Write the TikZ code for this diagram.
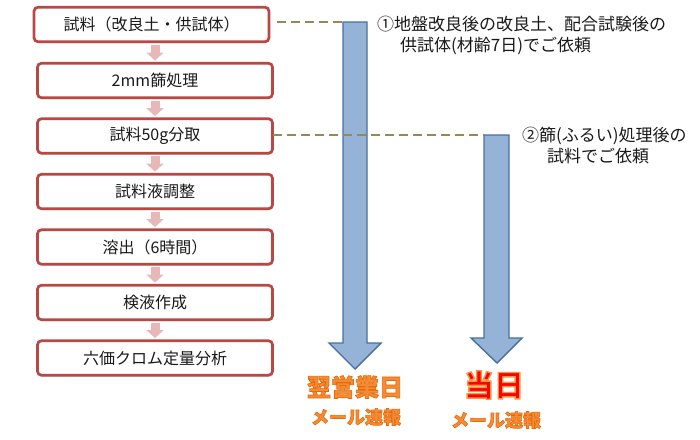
\documentclass[tikz,border=0pt]{standalone}
\usepackage{fontspec}
\setmainfont{Noto Sans CJK JP}
\usetikzlibrary{shadows,arrows.meta,calc}
\definecolor{boxred}{HTML}{B94743}
\definecolor{pinkarr}{HTML}{E6B9B8}
\definecolor{dashol}{HTML}{948A54}
\definecolor{arrfill}{HTML}{95B3D7}
\definecolor{arredge}{HTML}{4A6F9E}
\definecolor{orgfill}{HTML}{F68B36}
\definecolor{redfill}{HTML}{FF0000}
\newcommand\strk[2]{\special{pdf:literal direct 2 Tr #1 w #2 RG}}
\newcommand\unstrk{\special{pdf:literal direct 0 Tr}}
\begin{document}
\begin{tikzpicture}[x=1pt,y=-1pt,
  procbox/.style={draw=boxred, line width=2.7pt, rounded corners=4pt, fill=white,
    minimum width=235pt, minimum height=34.5pt, inner sep=0pt,
    font=\fontsize{16}{18}\selectfont, text=black!90,
    drop shadow={shadow xshift=0.8pt, shadow yshift=-1.5pt, opacity=0.2}},
  smallarr/.style={draw=pinkarr, line width=9pt, -{Triangle[width=17pt,length=8pt]}},
  dashline/.style={draw=dashol, line width=1.3pt, dash pattern=on 9pt off 5pt},
  bigarrow/.style={fill=arrfill, draw=arredge, line width=1.4pt, line join=miter},
  note/.style={anchor=west, inner sep=0pt, font=\fontsize{17}{20}\selectfont, text=black!90},
  res/.style={inner sep=0pt, font=\bfseries\fontsize{#1}{#1}\selectfont}
]
\useasboundingbox (0,0) rectangle (700,439);
% process boxes
\node[procbox] (b1) at (151.5,24.5) {試料（改良土・供試体）};
\node[procbox] (b2) at (155,80.5) {2mm篩処理};
\node[procbox] (b3) at (155,136) {試料50g分取};
\node[procbox] (b4) at (155,191.5) {試料液調整};
\node[procbox] (b5) at (155,247) {溶出（6時間）};
\node[procbox] (b6) at (155,302.5) {検液作成};
\node[procbox] (b7) at (155,358) {六価クロム定量分析};
% small arrows
\foreach \a/\b in {b1/b2,b2/b3,b3/b4,b4/b5,b5/b6,b6/b7}{
  \draw[smallarr] ($(\b.north |- \a.south)+(0,1.4)$) -- ($(\b.north)+(0,-1.3)$);
}
% big arrows
\coordinate (a1tl) at (343,22);
\coordinate (a2tl) at (484,135);
\draw[bigarrow] (a1tl) -- (367,22) -- (367,343) -- (381,343) -- (355,369) -- (329,343) -- (343,343) -- cycle;
\draw[bigarrow] (a2tl) -- (509,135) -- (509,338) -- (522,338) -- (497,363) -- (471,338) -- (484,338) -- cycle;
% dashed leaders
\coordinate (d1s) at ($(b1.east)+(7,-2.5)$);
\coordinate (d2s) at ($(b3.east)+(-1,-1)$);
\draw[dashline] (d1s) -- (a1tl);
\draw[dashline] (d2s) -- (a2tl);
% notes
\node[note] (t1a) at (377,24) {①地盤改良後の改良土、配合試験後の};
\node[note] (t1b) at (400,46) {供試体(材齢7日)でご依頼};
\node[note] (t2a) at (522,136) {②篩(ふるい)処理後の};
\node[note] (t2b) at (547,156) {試料でご依頼};
% results
\node[res=24] (r1a) at (355,387) {\color{orgfill}\strk{0.7}{0.89 0.42 0.04}翌営業日\unstrk};
\node[res=18] (r1b) at (356,417) {\color{orgfill}\strk{0.6}{0.89 0.42 0.04}メール速報\unstrk};
\node[res=30] (r2a) at (494,385) {\color{redfill}\strk{1.4}{0.97 0.59 0.27}当日\unstrk};
\node[res=18] (r2b) at (496,420) {\color{orgfill}\strk{0.6}{0.89 0.42 0.04}メール速報\unstrk};
\end{tikzpicture}
\end{document}
